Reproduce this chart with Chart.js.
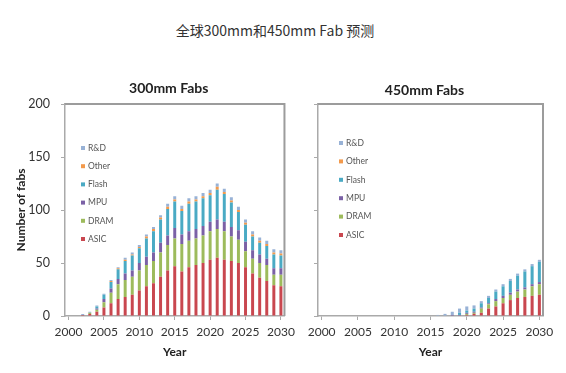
<!DOCTYPE html>
<html>
<head>
<meta charset="utf-8">
<script src="https://cdn.jsdelivr.net/npm/chart.js@4"></script>
<style>
  html, body { margin: 0; padding: 0; background: #fff; }
  body { width: 566px; height: 373px; position: relative; overflow: hidden; }
  #title {
    position: absolute; left: 0; top: 20px; width: 550px; text-align: center;
    font: 14px "Noto Sans CJK SC", sans-serif; color: #333;
  }
  .box { position: absolute; top: 70px; height: 300px; }
  #left { left: 0; width: 300px; }
  #right { left: 300px; width: 266px; }
</style>
</head>
<body>
<div id="title">全球300mm和450mm Fab 预测</div>
<div class="box" id="left"><canvas id="chart300"></canvas></div>
<div class="box" id="right"><canvas id="chart450"></canvas></div>
<script>
// années 2000 -> 2030
const years = ['2000','2001','2002','2003','2004','2005','2006','2007','2008','2009',
  '2010','2011','2012','2013','2014','2015','2016','2017','2018','2019',
  '2020','2021','2022','2023','2024','2025','2026','2027','2028','2029','2030'];
const yTicks = [0, 50, 100, 150, 200];
const seriesNames = ['ASIC', 'DRAM', 'MPU', 'Flash', 'Other', 'R&D'];
const seriesColors = ['#c9474f', '#9dbb5c', '#7b61a6', '#4aaac4', '#f39a4c', '#98b2d6'];

// 300mm
const asic300  = [0,0,1,2,4,8,12,16,18,20,24,28,31,37,43,47,42,46,48,50,53,55,53,52,50,46,40,36,33,29,28];
const dram300  = [0,0,0,1,2,5,10,14,16,17,19,20,21,23,24,26,26,25,25,26,27,27,27,23,22,15,14,14,15,10,11];
const mpu300   = [0,0,0,0,1,3,4,5,6,6,7,8,8,9,9,10,9,9,9,9,9,9,9,9,9,9,8,8,6,6,6];
const flash300 = [0,0,0,0,2,4,6,9,12,14,14,17,20,22,25,25,22,26,26,26,25,28,26,23,17,16,13,11,12,13,12];
const other300 = [0,0,0,0,0,0,1,1,1,1,1,2,2,2,2,2,2,2,2,2,2,3,2,2,2,2,2,2,2,2,2];
const rd300    = [0,0,1,1,1,1,1,1,2,2,2,2,2,2,3,3,3,3,3,3,3,3,3,3,3,3,3,3,3,3,3];

// 450mm
const asic450  = [0,0,0,0,0,0,0,0,0,0,0,0,0,0,0,0,0,0,0,0,1,2,3,7,9,12,15,17,18,19,20];
const dram450  = [0,0,0,0,0,0,0,0,0,0,0,0,0,0,0,0,0,0,0,0,1,1,4,4,5,5,5,6,7,9,10];
const mpu450   = [0,0,0,0,0,0,0,0,0,0,0,0,0,0,0,0,0,0,1,1,1,1,1,1,2,2,2,2,2,2,2];
const flash450 = [0,0,0,0,0,0,0,0,0,0,0,0,0,0,0,0,0,0,0,2,2,3,4,5,7,9,11,13,15,17,19];
const other450 = [0,0,0,0,0,0,0,0,0,0,0,0,0,0,0,0,0,0,0,0,0,0,0,0,0,0,0,0,0,0,0];
const rd450    = [0,0,0,0,0,0,0,0,0,0,0,0,0,0,0,0,1,2,3,4,4,3,2,2,2,2,2,2,2,2,2];

const FONT = 'Lato, "Open Sans", sans-serif';

// cadre + titre + légende dessinés dans la zone du graphique
const panelPlugin = {
  id: 'panel',
  afterDraw(chart, args, opts) {
    const { ctx, chartArea: a } = chart;
    ctx.save();
    // bord haut et droit
    ctx.strokeStyle = '#9c9c9c';
    ctx.lineWidth = 2;
    ctx.beginPath();
    ctx.moveTo(a.left, a.top);
    ctx.lineTo(a.right, a.top);
    ctx.lineTo(a.right, a.bottom);
    ctx.stroke();
    // titre
    ctx.fillStyle = '#222';
    ctx.font = 'bold 14px ' + FONT;
    ctx.textAlign = 'center';
    ctx.textBaseline = 'middle';
    ctx.fillText(opts.text, (a.left + a.right) / 2 - 6, a.top - opts.titleGap);
    // légende (ordre inversé, R&D en haut)
    ctx.font = '8.5px ' + FONT;
    ctx.textAlign = 'left';
    const ds = chart.data.datasets.slice().reverse();
    ds.forEach((d, i) => {
      const y = a.top + opts.legendTop + i * opts.legendStep;
      const x = a.left + opts.legendLeft;
      ctx.fillStyle = d.backgroundColor;
      ctx.fillRect(x, y - 2, 4, 4);
      ctx.fillStyle = '#555';
      ctx.fillText(d.label, x + 7, y);
    });
    ctx.restore();
  }
};

function makeDatasets(list) {
  return list.map((values, i) => ({
    label: seriesNames[i],
    data: values,
    backgroundColor: seriesColors[i],
    borderWidth: 0,
    barPercentage: 0.42,
    categoryPercentage: 1,
  }));
}

function makeChart(id, list, cfg) {
  return new Chart(document.getElementById(id), {
    type: 'bar',
    data: { labels: years, datasets: makeDatasets(list) },
    options: {
      responsive: true,
      maintainAspectRatio: false,
      animation: false,
      layout: { padding: { top: 34, right: cfg.padRight, left: 0, bottom: 0 } },
      plugins: {
        legend: { display: false },
        tooltip: { enabled: false },
        panel: {
          text: cfg.title, titleGap: cfg.titleGap,
          legendTop: cfg.legendTop, legendLeft: cfg.legendLeft, legendStep: cfg.legendStep
        }
      },
      scales: {
        x: {
          stacked: true,
          afterFit: s => { s.height = 54; },
          border: { color: '#aaa', width: 1.5 },
          grid: {
            offset: false,
            drawOnChartArea: false,
            tickLength: 4,
            color: c => (Number(years[c.index]) % 5 === 0 ? '#aaa' : 'rgba(0,0,0,0)')
          },
          ticks: {
            autoSkip: false,
            maxRotation: 0,
            padding: 5,
            color: '#333',
            font: { family: FONT, size: 12 },
            callback: (v, i) => (Number(years[i]) % 5 === 0 ? years[i] : '')
          },
          title: {
            display: true, text: 'Year', color: '#222',
            font: { family: FONT, size: 12, weight: 'bold' },
            padding: { top: 0, bottom: 11 }
          }
        },
        y: {
          stacked: true,
          min: 0, max: 200,
          afterFit: s => { s.width = cfg.axisWidth; },
          afterBuildTicks: s => { s.ticks = yTicks.map(v => ({ value: v })); },
          border: { color: '#aaa', width: 1.5 },
          grid: { drawOnChartArea: false, tickLength: 4, color: '#aaa' },
          ticks: {
            padding: 11,
            color: '#333',
            font: { family: FONT, size: 12.5 },
            callback: v => (cfg.showY ? v : '')
          },
          title: {
            display: cfg.showY, text: 'Number of fabs', color: '#222',
            font: { family: FONT, size: 12, weight: 'bold' },
            padding: { top: 14, bottom: 0 }
          }
        }
      }
    },
    plugins: [panelPlugin]
  });
}

makeChart('chart300', [asic300, dram300, mpu300, flash300, other300, rd300], {
  title: '300mm Fabs', titleGap: 16, padRight: 10, axisWidth: 65, showY: true,
  legendTop: 44, legendLeft: 16, legendStep: 18.2
});
makeChart('chart450', [asic450, dram450, mpu450, flash450, other450, rd450], {
  title: '450mm Fabs', titleGap: 14, padRight: 23, axisWidth: 18, showY: false,
  legendTop: 39, legendLeft: 21, legendStep: 18.4
});
</script>
</body>
</html>
